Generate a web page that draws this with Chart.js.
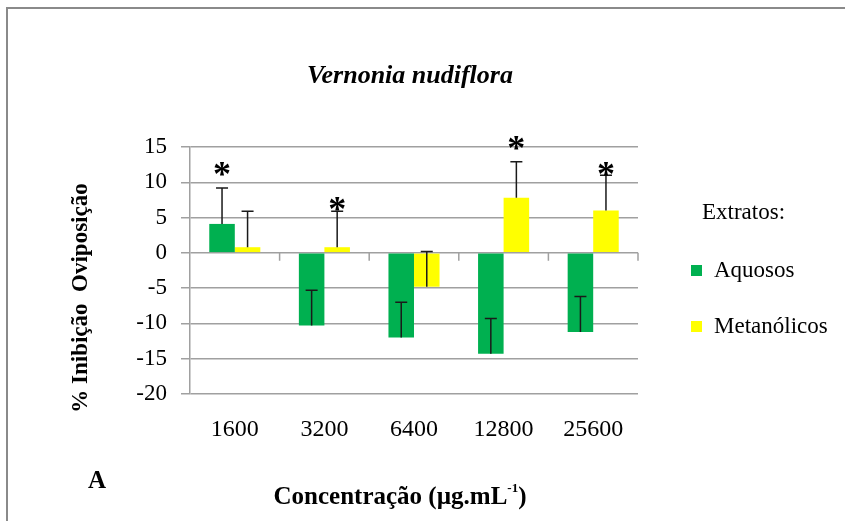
<!DOCTYPE html>
<html>
<head>
<meta charset="utf-8">
<script src="https://cdn.jsdelivr.net/npm/chart.js@4/dist/chart.umd.min.js"></script>
<style>
  html, body { margin: 0; padding: 0; background: #fff; }
  #wrap { width: 845px; height: 521px; }
</style>
</head>
<body>
<div id="wrap"><canvas id="chart" width="845" height="521"></canvas></div>
<script>
// Data
const concentrations = ['1600', '3200', '6400', '12800', '25600'];
const aquosos = [4.1, -10.3, -12.0, -14.3, -11.2];
const aquososErr = [5.1, 5.0, 5.0, 5.0, 5.0];
const metanolicos = [0.8, 0.8, -4.8, 7.8, 6.0];
const metanolicosErr = [5.1, 5.1, 5.0, 5.1, 5.0];
// asterisk marks (value where the * sits), null = no mark
const aquososStars = [11.9, null, null, null, null];
const metanolicosStars = [null, 6.9, null, 15.6, 11.9];
const yTicks = [15, 10, 5, 0, -5, -10, -15, -20];

const SERIF = '"Liberation Serif", "Times New Roman", serif';
const GRID = '#a0a0a0';

// error bars (plus direction only, like the Excel original) and asterisks
const errorBarPlugin = {
  id: 'errorBars',
  afterDatasetsDraw(chart) {
    const ctx = chart.ctx;
    const y = chart.scales.y;
    chart.data.datasets.forEach((ds, di) => {
      const meta = chart.getDatasetMeta(di);
      meta.data.forEach((bar, i) => {
        const v = ds.data[i];
        const end = y.getPixelForValue(v + ds.errors[i]);
        ctx.save();
        ctx.strokeStyle = '#1a1a1a';
        ctx.lineWidth = 1.5;
        ctx.beginPath();
        ctx.moveTo(bar.x, y.getPixelForValue(v));
        ctx.lineTo(bar.x, end);
        ctx.moveTo(bar.x - 6, end);
        ctx.lineTo(bar.x + 6, end);
        ctx.stroke();
        const star = ds.stars[i];
        if (star !== null) {
          ctx.fillStyle = '#000';
          ctx.font = 'bold 36px ' + SERIF;
          ctx.textAlign = 'center';
          ctx.textBaseline = 'middle';
          ctx.fillText('*', bar.x, y.getPixelForValue(star) + 8);
        }
        ctx.restore();
      });
    });
  }
};

// axis line at zero with category tick marks
const zeroAxisPlugin = {
  id: 'zeroAxis',
  afterDatasetsDraw(chart) {
    const ctx = chart.ctx;
    const x = chart.scales.x;
    const y0 = chart.scales.y.getPixelForValue(0);
    ctx.save();
    ctx.strokeStyle = GRID;
    ctx.lineWidth = 1.5;
    ctx.beginPath();
    for (let i = 0; i < concentrations.length; i++) {
      const bx = i < concentrations.length - 1
        ? (x.getPixelForValue(i) + x.getPixelForValue(i + 1)) / 2
        : chart.chartArea.right;
      ctx.moveTo(bx, y0);
      ctx.lineTo(bx, y0 + 8);
    }
    ctx.stroke();
    ctx.restore();
  }
};

// frame, titles, legend
const textPlugin = {
  id: 'texts',
  beforeDraw(chart) {
    const ctx = chart.ctx;
    ctx.save();
    ctx.fillStyle = '#fff';
    ctx.fillRect(0, 0, chart.width, chart.height);
    ctx.strokeStyle = '#8a8a8a';
    ctx.lineWidth = 2;
    ctx.beginPath();
    ctx.moveTo(7, chart.height);
    ctx.lineTo(7, 8);
    ctx.lineTo(chart.width, 8);
    ctx.stroke();
    ctx.restore();
  },
  afterDraw(chart) {
    const ctx = chart.ctx;
    ctx.save();
    ctx.fillStyle = '#000';
    ctx.textBaseline = 'middle';

    ctx.textAlign = 'center';
    ctx.font = 'bold italic 26px ' + SERIF;
    ctx.fillText('Vernonia nudiflora', 410, 76);

    ctx.save();
    ctx.translate(81, 298);
    ctx.rotate(-Math.PI / 2);
    ctx.font = 'bold 23px ' + SERIF;
    ctx.fillText('% Inibição  Oviposição', 0, 0);
    ctx.restore();

    ctx.font = 'bold 25px ' + SERIF;
    ctx.fillText('A', 97, 482);

    // x title with superscript
    ctx.textAlign = 'left';
    ctx.font = 'bold 25px ' + SERIF;
    const p1 = 'Concentração (µg.mL', p3 = ')';
    const w1 = ctx.measureText(p1).width;
    ctx.font = 'bold 13px ' + SERIF;
    const w2 = ctx.measureText('-1').width;
    ctx.font = 'bold 25px ' + SERIF;
    const w3 = ctx.measureText(p3).width;
    let sx = 400 - (w1 + w2 + w3) / 2;
    ctx.fillText(p1, sx, 498);
    ctx.font = 'bold 13px ' + SERIF;
    ctx.fillText('-1', sx + w1, 489);
    ctx.font = 'bold 25px ' + SERIF;
    ctx.fillText(p3, sx + w1 + w2, 498);

    // legend
    ctx.font = '23px ' + SERIF;
    ctx.fillText('Extratos:', 702, 213);
    const rows = [271, 327];
    chart.data.datasets.forEach((ds, i) => {
      ctx.fillStyle = ds.backgroundColor;
      ctx.fillRect(691, rows[i] - 6, 11, 11);
      ctx.fillStyle = '#000';
      ctx.fillText(ds.label, 714, rows[i]);
    });
    ctx.restore();
  }
};

new Chart(document.getElementById('chart'), {
  type: 'bar',
  data: {
    labels: concentrations,
    datasets: [
      { label: 'Aquosos', data: aquosos, errors: aquososErr, stars: aquososStars,
        backgroundColor: '#00b050', categoryPercentage: 0.57, barPercentage: 1.0 },
      { label: 'Metanólicos', data: metanolicos, errors: metanolicosErr, stars: metanolicosStars,
        backgroundColor: '#ffff00', categoryPercentage: 0.57, barPercentage: 1.0 }
    ]
  },
  options: {
    responsive: false,
    animation: false,
    layout: { padding: { left: 130, top: 147, right: 207, bottom: 67 } },
    plugins: {
      legend: { display: false },
      tooltip: { enabled: false }
    },
    scales: {
      x: {
        grid: { display: false, drawTicks: false },
        border: { display: false },
        ticks: { color: '#000', font: { family: SERIF, size: 24 }, padding: 21, maxRotation: 0 },
        afterFit: (scale) => { scale.height = 60; }
      },
      y: {
        min: -20,
        max: 15,
        afterBuildTicks: (scale) => { scale.ticks = yTicks.map(v => ({ value: v })); },
        grid: { color: GRID, lineWidth: 1.5, tickLength: 9 },
        border: { color: GRID, width: 1.5 },
        ticks: { color: '#000', font: { family: SERIF, size: 23 }, padding: 14 },
        afterFit: (scale) => { scale.width = 60; }
      }
    }
  },
  plugins: [textPlugin, zeroAxisPlugin, errorBarPlugin]
});
</script>
</body>
</html>
